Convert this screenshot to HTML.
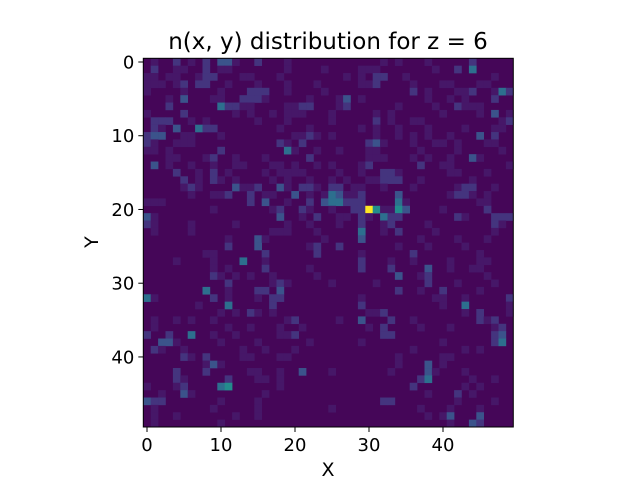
<!DOCTYPE html>
<html><head><meta charset="utf-8"><style>
body{margin:0;background:#fff}
svg text{font-family:"DejaVu Sans","Liberation Sans",sans-serif;fill:#000}
</style></head><body>
<svg id="chart" width="640" height="480" viewBox="0 0 640 480" xmlns="http://www.w3.org/2000/svg">
<rect width="640" height="480" fill="#fff"/>
<text x="328" y="49" font-size="23" text-anchor="middle">n(x, y) distribution for z = 6</text>
<g id="cells"></g>
<g id="axes"></g>
<text x="328" y="476" font-size="19" text-anchor="middle">X</text>
<text x="98" y="242" font-size="19" text-anchor="middle" transform="rotate(-90 98 242)">Y</text>
</svg>
<script>
const nx = 50, ny = 50;
const xTicks = [0,10,20,30,40];
const yTicks = [0,10,20,30,40];
const vmax = 9;
// nonzero cells per row: [col, value]
const rowData = [
[[1,1],[4,2],[6,1],[8,2],[10,3],[11,3],[12,1],[15,2],[19,1],[32,1],[34,1],[38,1],[44,2]],
[[1,2],[4,1],[5,1],[8,2],[10,1],[11,1],[19,1],[24,1],[29,1],[30,1],[31,1],[39,1],[42,2],[44,4]],
[[0,1],[1,1],[3,1],[4,1],[7,1],[8,2],[9,2],[13,1],[14,1],[18,1],[27,1],[29,1],[31,2],[32,2],[35,1],[47,1]],
[[0,1],[1,1],[2,1],[4,1],[5,2],[7,2],[8,2],[11,1],[15,1],[19,1],[23,1],[29,1],[30,1],[31,2],[36,1],[40,1],[41,1],[45,1],[46,1]],
[[0,1],[5,1],[10,1],[14,2],[15,2],[16,2],[19,1],[24,1],[36,2],[38,1],[42,1],[43,1],[44,2],[47,1],[48,4],[49,2]],
[[3,1],[5,3],[9,1],[10,1],[13,2],[14,2],[15,2],[16,1],[22,1],[26,1],[27,3],[29,1],[38,1],[41,1],[43,1],[47,2]],
[[3,2],[10,4],[11,2],[12,2],[13,1],[14,1],[19,1],[20,1],[21,2],[22,2],[26,1],[27,2],[34,1],[39,1],[42,2],[43,1],[44,1],[45,1]],
[[0,1],[5,2],[12,1],[14,1],[17,1],[19,1],[20,1],[21,1],[25,1],[31,1],[33,1],[40,1],[45,1],[47,3],[49,1]],
[[1,2],[2,2],[3,2],[6,1],[8,1],[15,1],[19,1],[25,1],[31,2],[33,1],[36,1],[37,1],[48,1],[49,2]],
[[1,2],[2,1],[4,3],[7,4],[8,2],[9,2],[18,1],[22,1],[29,1],[31,1],[34,1],[38,1],[43,1],[47,1],[48,1]],
[[0,2],[1,3],[2,3],[5,1],[6,1],[10,1],[20,1],[21,1],[22,2],[23,1],[25,1],[31,1],[34,1],[36,1],[38,1],[41,1],[45,3],[47,2]],
[[0,2],[1,1],[4,1],[5,1],[6,1],[18,2],[19,1],[21,2],[30,2],[31,3],[32,1],[36,1],[39,1],[40,1],[42,1],[46,1],[47,1]],
[[0,1],[1,1],[3,1],[10,2],[19,4],[20,1],[23,1],[26,1],[30,1],[31,1],[37,1],[42,1],[48,1]],
[[3,1],[4,1],[8,1],[9,2],[12,1],[16,1],[22,2],[30,1],[31,1],[32,1],[36,1],[38,1],[41,1],[44,3],[45,1]],
[[1,3],[3,1],[6,1],[9,1],[12,1],[13,1],[17,1],[18,1],[20,1],[23,1],[25,1],[29,1],[30,2],[37,2],[40,1],[41,1],[49,1]],
[[4,2],[7,1],[9,2],[11,1],[16,1],[18,1],[19,1],[20,1],[21,1],[26,1],[29,1],[32,2],[33,2],[34,1],[41,1],[42,1],[46,1]],
[[5,2],[7,1],[9,2],[10,1],[12,1],[17,1],[19,1],[22,1],[25,1],[27,1],[30,1],[31,1],[32,2],[33,2],[34,2],[37,1],[44,1]],
[[5,1],[6,2],[7,1],[12,3],[13,1],[14,1],[15,2],[18,3],[19,1],[21,2],[22,2],[23,1],[25,2],[26,2],[28,1],[29,1],[32,1],[36,1],[42,1],[43,2],[44,2],[47,1]],
[[6,1],[9,1],[10,1],[11,2],[14,2],[16,1],[17,1],[20,3],[22,1],[24,1],[25,4],[26,3],[27,1],[28,1],[29,2],[34,3],[41,1],[42,2],[43,2],[44,1],[46,1]],
[[0,1],[1,1],[2,1],[14,2],[16,3],[19,1],[22,2],[24,3],[25,4],[26,4],[27,2],[28,2],[29,2],[34,4],[35,1],[45,1],[46,1]],
[[9,1],[17,1],[18,2],[21,2],[22,1],[25,1],[28,2],[29,2],[30,9],[31,5],[32,1],[33,1],[34,5],[35,3],[40,1],[46,2]],
[[0,3],[1,1],[18,3],[21,1],[23,2],[26,1],[27,1],[29,2],[30,1],[32,4],[33,2],[34,2],[42,2],[43,1],[47,2],[48,2],[49,2]],
[[0,2],[1,1],[6,1],[12,1],[19,1],[22,1],[26,1],[29,2],[32,1],[33,2],[38,1],[47,2],[48,1]],
[[1,1],[6,1],[17,1],[18,1],[19,1],[23,1],[29,4],[32,1],[34,2],[39,1],[47,1]],
[[11,1],[15,3],[16,1],[24,1],[29,3],[37,1],[42,1],[46,1]],
[[11,2],[15,3],[22,1],[23,2],[26,2],[34,1],[38,1],[43,1]],
[[8,1],[9,1],[16,2],[23,2],[29,1],[36,2],[45,1]],
[[4,1],[9,1],[13,4],[16,1],[29,2],[33,1],[36,1],[41,1],[45,1],[46,1]],
[[9,1],[11,1],[16,2],[22,1],[29,2],[33,2],[38,3],[41,1],[44,1],[45,1]],
[[9,2],[10,1],[12,1],[14,1],[17,1],[23,1],[34,3],[37,1],[38,2],[46,1]],
[[11,2],[17,1],[18,2],[19,1],[25,1],[31,1],[38,2],[42,1],[47,1]],
[[8,4],[11,1],[15,2],[16,2],[18,3],[34,2],[37,1],[40,2],[45,1]],
[[0,4],[1,1],[9,2],[11,1],[15,1],[17,2],[18,2],[29,1],[39,1],[40,1],[43,1],[49,2]],
[[7,1],[11,4],[17,2],[29,2],[40,1],[43,4],[49,1]],
[[10,1],[12,1],[14,2],[15,1],[17,1],[30,1],[31,1],[32,2],[43,1],[45,2],[49,1]],
[[1,1],[4,1],[6,1],[9,1],[19,1],[20,2],[26,1],[29,3],[33,2],[36,1],[45,2],[46,1],[47,2]],
[[1,1],[11,1],[14,1],[18,1],[21,1],[30,1],[32,2],[37,1],[41,1],[47,1],[48,2]],
[[0,2],[3,2],[6,4],[9,1],[12,1],[18,1],[19,1],[20,2],[32,2],[33,2],[47,2],[48,3]],
[[2,3],[3,3],[4,1],[10,1],[15,1],[22,1],[29,1],[40,1],[47,2],[48,4]],
[[1,2],[2,1],[5,1],[13,1],[16,1],[20,1],[36,1],[43,1],[45,1]],
[[5,2],[6,1],[8,2],[13,1],[14,1],[18,1],[19,1],[34,1],[40,1],[41,1]],
[[8,1],[9,3],[10,1],[34,1],[38,3],[40,1]],
[[4,2],[8,2],[14,1],[15,1],[18,1],[21,3],[25,1],[33,1],[38,3],[39,1],[43,1]],
[[4,2],[5,1],[11,2],[15,1],[16,1],[18,1],[37,2],[38,4],[44,1],[47,1]],
[[0,1],[4,1],[5,2],[10,4],[11,5],[18,1],[36,2],[43,1],[45,1]],
[[2,1],[5,3],[6,1],[16,1],[38,1],[42,2],[44,1]],
[[0,3],[1,2],[2,2],[10,1],[15,1],[32,2],[33,2],[42,1],[47,1]],
[[1,1],[9,1],[15,1],[25,1],[37,1],[41,1],[45,1]],
[[1,1],[4,1],[12,1],[15,1],[38,1],[40,1],[41,3],[45,3]],
[[1,1],[10,1],[41,1],[44,3],[45,2]]
];
const X0 = 143.3, X1 = 513.3, Y0 = 58.3, Y1 = 427;
const cw = (X1 - X0) / nx, ch = (Y1 - Y0) / ny;
function xScale(c){ return X0 + c * cw; }
function yScale(r){ return Y0 + r * ch; }
const stops = [[0,68,1,84],[0.125,71,44,122],[0.25,59,82,139],[0.375,44,114,142],[0.5,33,145,140],[0.625,39,173,129],[0.75,92,200,99],[0.875,170,220,50],[1,253,231,37]];
function viridis(t){
  t = Math.max(0, Math.min(1, t));
  for (let i = 1; i < stops.length; i++) {
    if (t <= stops[i][0]) {
      const a = stops[i-1], b = stops[i], f = (t - a[0]) / (b[0] - a[0]);
      return `rgb(${Math.round(a[1]+(b[1]-a[1])*f)},${Math.round(a[2]+(b[2]-a[2])*f)},${Math.round(a[3]+(b[3]-a[3])*f)})`;
    }
  }
  return 'rgb(253,231,37)';
}
function colorOf(v){ return viridis(Math.pow(v / vmax, 1.25)); }
const NS = 'http://www.w3.org/2000/svg';
const cg = document.getElementById('cells');
const bg = document.createElementNS(NS, 'rect');
bg.setAttribute('x', X0); bg.setAttribute('y', Y0);
bg.setAttribute('width', X1 - X0); bg.setAttribute('height', Y1 - Y0);
bg.setAttribute('fill', 'rgb(69,6,88)');


cg.appendChild(bg);
rowData.forEach((row, r) => {
  row.forEach(([c, v]) => {
    const rc = document.createElementNS(NS, 'rect');
    rc.setAttribute('x', xScale(c)); rc.setAttribute('y', yScale(r));
    rc.setAttribute('width', cw + 0.3); rc.setAttribute('height', ch + 0.3);
    rc.setAttribute('fill', colorOf(v));
    
    
    cg.appendChild(rc);
  });
});
const ag = document.getElementById('axes');
const frame = document.createElementNS(NS, 'rect');
frame.setAttribute('x', X0); frame.setAttribute('y', Y0);
frame.setAttribute('width', X1 - X0); frame.setAttribute('height', Y1 - Y0);
frame.setAttribute('fill', 'none'); frame.setAttribute('stroke', '#000'); frame.setAttribute('stroke-width', '1');


ag.appendChild(frame);
xTicks.forEach(v => {
  const x = xScale(v + 0.5);
  const l = document.createElementNS(NS, 'line');
  l.setAttribute('x1', x); l.setAttribute('x2', x); l.setAttribute('y1', Y1); l.setAttribute('y2', Y1 + 5);
  l.setAttribute('stroke', '#000');
  
  
  ag.appendChild(l);
  const t = document.createElementNS(NS, 'text');
  t.setAttribute('x', x); t.setAttribute('y', Y1 + 24); t.setAttribute('font-size', '18'); t.setAttribute('text-anchor', 'middle');
  t.textContent = v;
  
  
  ag.appendChild(t);
});
yTicks.forEach(v => {
  const y = yScale(v + 0.5);
  const l = document.createElementNS(NS, 'line');
  l.setAttribute('x1', X0 - 5); l.setAttribute('x2', X0); l.setAttribute('y1', y); l.setAttribute('y2', y);
  l.setAttribute('stroke', '#000');
  
  
  ag.appendChild(l);
  const t = document.createElementNS(NS, 'text');
  t.setAttribute('x', X0 - 9); t.setAttribute('y', y + 6.5); t.setAttribute('font-size', '18'); t.setAttribute('text-anchor', 'end');
  t.textContent = v;
  
  
  ag.appendChild(t);
});
</script>
</body></html>
